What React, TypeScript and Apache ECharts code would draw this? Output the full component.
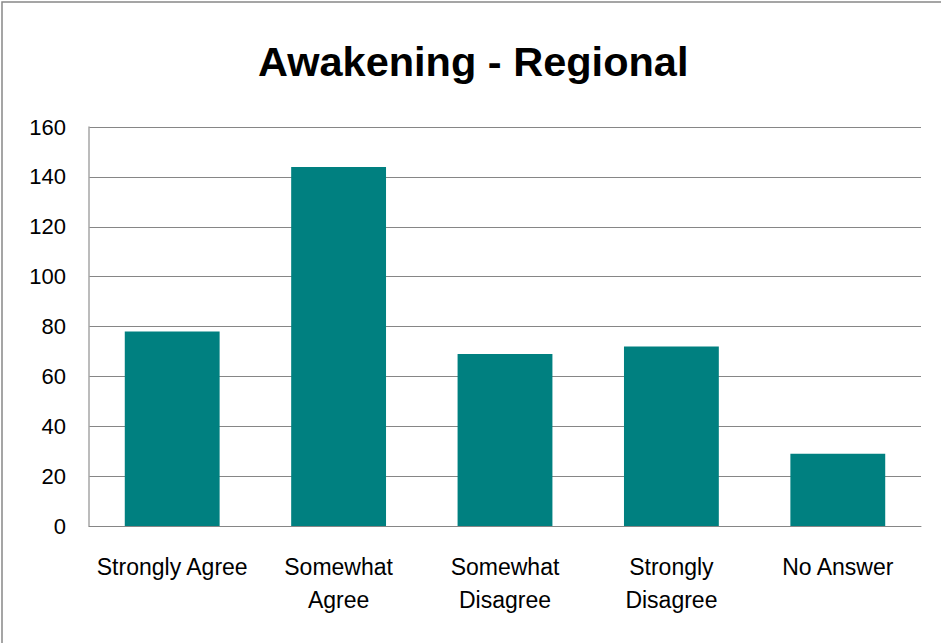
import React, { useEffect, useRef } from "react";
import * as echarts from "echarts";

// Survey responses for the "Awakening" question, regional totals
const categories = [
  "Strongly Agree",
  "Somewhat\nAgree",
  "Somewhat\nDisagree",
  "Strongly\nDisagree",
  "No Answer",
];
const responses = [78, 144, 69, 72, 29];
const yTicks = { min: 0, max: 160, interval: 20 };

const FONT = "'Liberation Sans', Arial, sans-serif";

export default function App() {
  const ref = useRef<HTMLDivElement>(null);

  useEffect(() => {
    document.body.style.margin = "0";
    if (!ref.current) return;
    const chart = echarts.init(ref.current, null, { renderer: "svg" });
    chart.setOption({
      animation: false,
      backgroundColor: "#ffffff",
      textStyle: { fontFamily: FONT },
      title: {
        text: "Awakening - Regional",
        left: 253,
        top: 35,
        textStyle: {
          fontFamily: FONT,
          fontSize: 41.5,
          fontWeight: "bold",
          color: "#000000",
        },
      },
      graphic: [
        {
          type: "rect",
          shape: { x: 2, y: 2, width: 1000, height: 1000 },
          style: { fill: "none", stroke: "#888888", lineWidth: 1.5 },
          silent: true,
        },
      ],
      grid: { left: 89, right: 20, top: 127, bottom: 117 },
      xAxis: {
        type: "category",
        data: categories,
        axisLine: { lineStyle: { color: "#868686", width: 1 } },
        axisTick: { show: false },
        axisLabel: {
          interval: 0,
          margin: 24,
          lineHeight: 33,
          fontFamily: FONT,
          fontSize: 23,
          color: "#000000",
        },
      },
      yAxis: {
        type: "value",
        min: yTicks.min,
        max: yTicks.max,
        interval: yTicks.interval,
        axisLine: { show: true, lineStyle: { color: "#a6a6a6", width: 1.5 } },
        axisTick: { show: false },
        splitLine: { lineStyle: { color: "#868686", width: 1 } },
        axisLabel: {
          margin: 23,
          fontFamily: FONT,
          fontSize: 22,
          color: "#000000",
        },
      },
      series: [
        {
          type: "bar",
          data: responses,
          barWidth: "57%",
          itemStyle: { color: "#008080" },
        },
      ],
    });
    return () => chart.dispose();
  }, []);

  return <div ref={ref} style={{ width: 941, height: 643 }} />;
}
